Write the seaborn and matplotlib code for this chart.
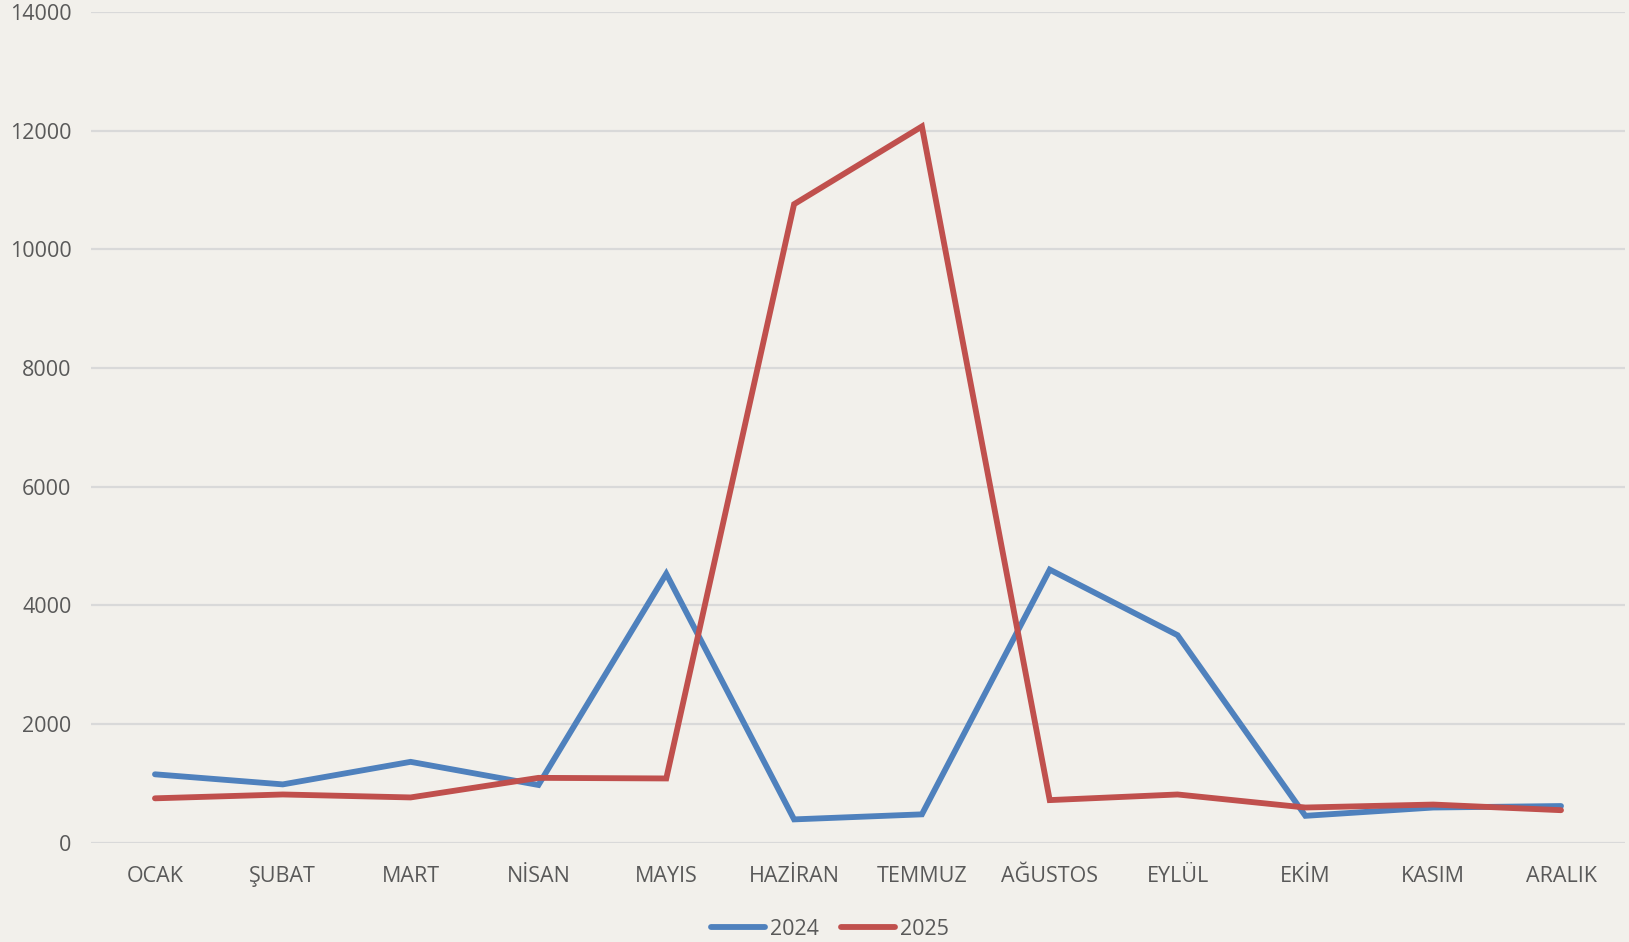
import pandas as pd
import numpy as np
import matplotlib.pyplot as plt
import seaborn as sns

# ========== 数据 ==========
aylar = ['OCAK', 'ŞUBAT', 'MART', 'NİSAN', 'MAYIS', 'HAZİRAN',
         'TEMMUZ', 'AĞUSTOS', 'EYLÜL', 'EKİM', 'KASIM', 'ARALIK']
deger_2024 = [1150, 980, 1360, 970, 4530, 390, 475, 4600, 3495, 450, 590, 615]
deger_2025 = [745, 810, 760, 1090, 1080, 10760, 12070, 715, 810, 590, 640, 545]
yil_etiketleri = ['2024', '2025']
renkler = ['#4F81BD', '#C0504D']
y_ticks = [0, 2000, 4000, 6000, 8000, 10000, 12000, 14000]

df = pd.DataFrame({
    'ay': aylar * 2,
    'deger': deger_2024 + deger_2025,
    'yil': [yil_etiketleri[0]] * len(aylar) + [yil_etiketleri[1]] * len(aylar),
})

# ========== 全局设置 ==========
bg = '#F2F0EB'
text_color = '#595959'
sns.set_style('white')
plt.rcParams['font.family'] = ['Open Sans', 'DejaVu Sans']
plt.rcParams['text.color'] = text_color
plt.rcParams['xtick.color'] = text_color
plt.rcParams['ytick.color'] = text_color

fig = plt.figure(figsize=(16.29, 9.42), dpi=100, facecolor=bg)
ax = fig.add_axes([0.0559, 0.1056, 0.9416, 0.8817])
ax.set_facecolor(bg)

sns.lineplot(data=df, x='ay', y='deger', hue='yil', palette=renkler,
             hue_order=yil_etiketleri, sort=False, linewidth=4.2,
             ax=ax, solid_capstyle='round', solid_joinstyle='miter')

ax.set_xlim(-0.5, len(aylar) - 0.5)
ax.set_ylim(0, 14000)
ax.set_yticks(y_ticks)
ax.set_yticklabels([str(t) for t in y_ticks])
ax.set_xlabel('')
ax.set_ylabel('')
ax.tick_params(axis='y', length=0, labelsize=15.5, pad=14)
ax.tick_params(axis='x', length=0, labelsize=15.5, pad=17)

ax.grid(axis='y', color='#D9D9D9', linewidth=1.6)
ax.grid(axis='x', visible=False)
ax.set_axisbelow(True)
for s in ax.spines.values():
    s.set_visible(False)

handles, labels = ax.get_legend_handles_labels()
ax.legend_.remove()
leg = fig.legend(handles, labels, loc='center', bbox_to_anchor=(0.5095, 0.0135),
                 ncol=2, frameon=False, fontsize=15.5, handlelength=2.5,
                 handletextpad=0.25, columnspacing=1.0)
for line in leg.get_lines():
    line.set_linewidth(4.2)
    line.set_solid_capstyle('round')

plt.savefig('out.png', dpi=100, facecolor=bg)
